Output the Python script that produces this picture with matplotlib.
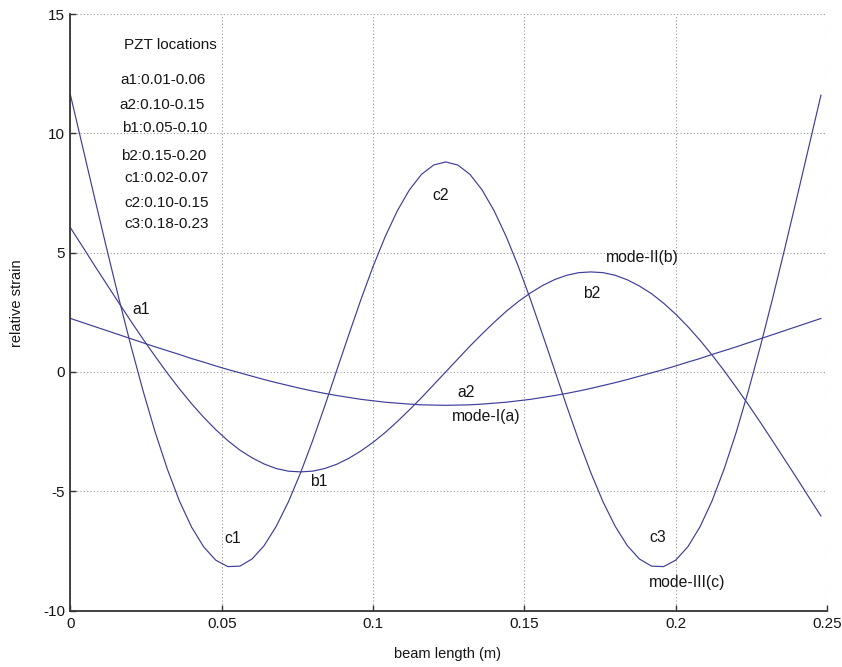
import matplotlib
matplotlib.use("Agg")
import matplotlib.pyplot as plt

plt.rcParams["font.family"] = ["Liberation Sans", "DejaVu Sans"]

# position along the beam (m)
beam_x = [0.000, 0.004, 0.008, 0.012, 0.016, 0.020, 0.024, 0.028, 0.032, 0.036,
          0.040, 0.044, 0.048, 0.052, 0.056, 0.060, 0.064, 0.068, 0.072, 0.076,
          0.080, 0.084, 0.088, 0.092, 0.096, 0.100, 0.104, 0.108, 0.112, 0.116,
          0.120, 0.124, 0.128, 0.132, 0.136, 0.140, 0.144, 0.148, 0.152, 0.156,
          0.160, 0.164, 0.168, 0.172, 0.176, 0.180, 0.184, 0.188, 0.192, 0.196,
          0.200, 0.204, 0.208, 0.212, 0.216, 0.220, 0.224, 0.228, 0.232, 0.236,
          0.240, 0.244, 0.248]

# relative strain, mode I
mode1 = [2.24, 2.07, 1.90, 1.73, 1.56, 1.39, 1.22, 1.05, 0.89, 0.73,
         0.56, 0.41, 0.25, 0.10, -0.04, -0.18, -0.32, -0.45, -0.57, -0.69,
         -0.80, -0.90, -0.99, -1.07, -1.15, -1.21, -1.27, -1.31, -1.35, -1.38,
         -1.39, -1.40, -1.39, -1.38, -1.35, -1.31, -1.27, -1.21, -1.15, -1.07,
         -0.99, -0.90, -0.80, -0.69, -0.57, -0.45, -0.32, -0.18, -0.04, 0.10,
         0.25, 0.41, 0.56, 0.73, 0.89, 1.05, 1.22, 1.39, 1.56, 1.73,
         1.90, 2.07, 2.24]

# relative strain, mode II
mode2 = [6.04, 5.25, 4.45, 3.67, 2.89, 2.12, 1.37, 0.65, -0.05, -0.71,
         -1.33, -1.90, -2.42, -2.88, -3.28, -3.60, -3.86, -4.05, -4.16, -4.19,
         -4.16, -4.05, -3.87, -3.62, -3.31, -2.95, -2.54, -2.08, -1.59, -1.08,
         -0.54, 0.00, 0.54, 1.08, 1.59, 2.08, 2.54, 2.95, 3.31, 3.62,
         3.87, 4.05, 4.16, 4.19, 4.16, 4.05, 3.86, 3.60, 3.28, 2.88,
         2.42, 1.90, 1.33, 0.71, 0.05, -0.65, -1.37, -2.12, -2.89, -3.67,
         -4.45, -5.25, -6.04]

# relative strain, mode III
mode3 = [11.60, 9.44, 7.28, 5.15, 3.07, 1.08, -0.80, -2.53, -4.07, -5.41,
         -6.50, -7.33, -7.89, -8.16, -8.14, -7.84, -7.28, -6.47, -5.45, -4.24,
         -2.89, -1.44, 0.07, 1.57, 3.04, 4.42, 5.67, 6.75, 7.63, 8.28,
         8.67, 8.80, 8.67, 8.28, 7.63, 6.75, 5.67, 4.42, 3.04, 1.57,
         0.07, -1.44, -2.89, -4.24, -5.45, -6.47, -7.28, -7.84, -8.14, -8.16,
         -7.89, -7.33, -6.50, -5.41, -4.07, -2.53, -0.80, 1.08, 3.07, 5.15,
         7.28, 9.44, 11.60]

pzt_locations = ["a1:0.01-0.06", "a2:0.10-0.15", "b1:0.05-0.10", "b2:0.15-0.20",
                 "c1:0.02-0.07", "c2:0.10-0.15", "c3:0.18-0.23"]

x_ticks = [0, 0.05, 0.1, 0.15, 0.2, 0.25]
x_ticklabels = ["0", "0.05", "0.1", "0.15", "0.2", "0.25"]
y_ticks = [-10, -5, 0, 5, 10, 15]
y_ticklabels = ["-10", "-5", "0", "5", "10", "15"]

line_color = "#3d3d9e"
text_color = "#151515"

fig = plt.figure(figsize=(8.42, 6.67), dpi=100)
ax = fig.add_axes([0.0837, 0.0847, 0.8985, 0.8943])

for strain in (mode1, mode2, mode3):
    ax.plot(beam_x, strain, color=line_color, lw=0.85)

ax.set_xlim(0, 0.25)
ax.set_ylim(-10, 15)
ax.set_xticks(x_ticks)
ax.set_xticklabels(x_ticklabels)
ax.set_yticks(y_ticks)
ax.set_yticklabels(y_ticklabels)
ax.tick_params(direction="in", length=4, width=1.0, color="#333333",
               labelsize=11, labelcolor=text_color, pad=5)
ax.tick_params(axis="y", pad=4)
ax.grid(True, linestyle=(0, (1, 2)), color="#9a9a9a", lw=0.8)

for side in ("top", "right"):
    ax.spines[side].set_visible(False)
for side in ("left", "bottom"):
    ax.spines[side].set_color("#333333")
    ax.spines[side].set_linewidth(1.3)

ax.set_xlabel("beam length (m)", fontsize=10.5, color=text_color)
ax.xaxis.set_label_coords(0.499, -0.061)
ax.xaxis.label.set_va("top")
ax.set_ylabel("relative strain", fontsize=10.5, color=text_color)
ax.yaxis.set_label_coords(-0.062, 0.515)

# PZT placement table in the upper-left corner
ax.text(0.0177, 13.69, "PZT locations", fontsize=11, color=text_color,
        ha="left", va="center")
list_y = [12.25, 11.18, 10.23, 9.04, 8.11, 7.09, 6.18]
list_x = [0.0166, 0.0161, 0.0169, 0.0166, 0.0177, 0.0177, 0.0177]
for lx, ly, s in zip(list_x, list_y, pzt_locations):
    ax.text(lx, ly, s, fontsize=11, color=text_color, ha="left", va="center")

# segment and mode labels along the curves
curve_labels = [
    ("a1", 0.0232, 2.62), ("a2", 0.1308, -0.88), ("mode-I(a)", 0.1375, -1.86),
    ("b1", 0.0821, -4.58), ("b2", 0.1722, 3.30), ("mode-II(b)", 0.189, 4.81),
    ("c1", 0.0537, -6.97), ("c2", 0.1223, 7.41), ("c3", 0.1941, -6.92),
    ("mode-III(c)", 0.2038, -8.81),
]
for s, lx, ly in curve_labels:
    ax.text(lx, ly, s, fontsize=11.3, color=text_color, ha="center", va="center")

fig.savefig("out.png", dpi=100)
plt.close(fig)
